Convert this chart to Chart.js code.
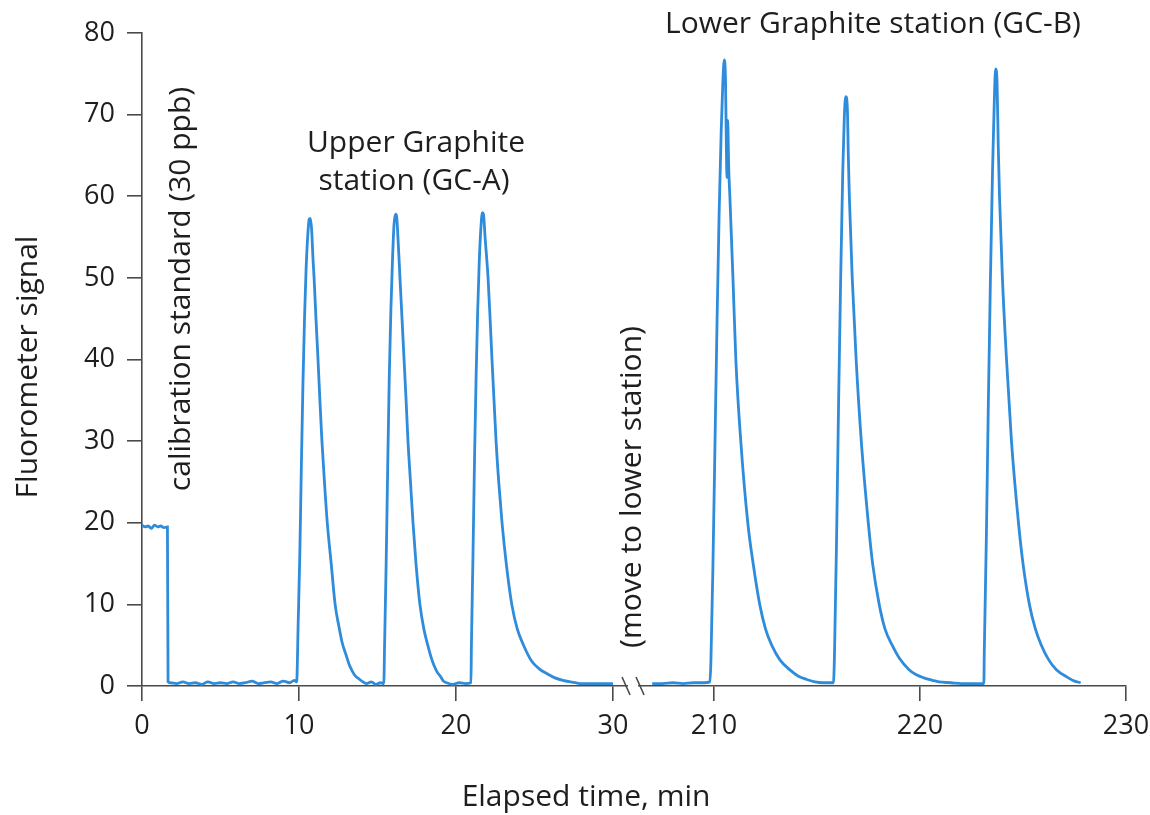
<!DOCTYPE html>
<html>
<head>
<meta charset="utf-8">
<script src="https://cdn.jsdelivr.net/npm/chart.js@4.4.1/dist/chart.umd.min.js"></script>
<style>
  html, body { margin: 0; padding: 0; background: #ffffff; }
  #wrap { width: 1150px; height: 815px; }
</style>
</head>
<body>
<div id="wrap"><canvas id="c" width="1150" height="815"></canvas></div>
<script>
// ---------------- DATA ----------------
// Segment 1: calibration + Upper Graphite station (GC-A), minutes 0-30
const seg1Time = [
  0, 0.2, 0.4, 0.6, 0.8, 1.0, 1.2, 1.4, 1.62, 1.66,
  1.8, 2.2, 2.6, 3.0, 3.4, 3.8, 4.2, 4.6, 5.0, 5.4, 5.8, 6.2, 6.6, 7.0, 7.4, 7.8, 8.2, 8.6, 9.0, 9.4, 9.7, 9.85,
  9.95, 10.05, 10.15, 10.25, 10.35, 10.45, 10.55, 10.65, 10.72, 10.8, 10.9, 10.96, 11.08, 11.21, 11.33, 11.46, 11.62, 11.8,
  12.05, 12.3, 12.55, 12.75, 13.0, 13.2, 13.4, 13.6, 13.8, 14.0, 14.3, 14.6, 14.9, 15.2, 15.4,
  15.45, 15.55, 15.65, 15.75, 15.85, 15.95, 16.05, 16.15, 16.22, 16.3, 16.43, 16.56, 16.69, 16.82, 16.94, 17.1, 17.26,
  17.45, 17.7, 17.95, 18.2, 18.4, 18.6, 18.8, 19.0, 19.2, 19.4, 19.8, 20.2, 20.6, 20.95,
  20.98, 21.08, 21.18, 21.28, 21.38, 21.48, 21.58, 21.68, 21.75, 21.85, 22.04, 22.17, 22.29, 22.42, 22.55, 22.72, 22.93,
  23.2, 23.55, 23.9, 24.3, 24.8, 25.3, 25.8, 26.3, 26.8, 27.3, 27.6, 28.0, 29.0, 30.0
];
const seg1Signal = [
  19.7, 19.5, 19.6, 19.3, 19.7, 19.5, 19.6, 19.4, 19.5, 0.5,
  0.4, 0.3, 0.5, 0.3, 0.4, 0.2, 0.5, 0.3, 0.4, 0.3, 0.5, 0.3, 0.4, 0.6, 0.3, 0.4, 0.5, 0.3, 0.6, 0.4, 0.7, 0.5,
  8, 16, 27, 37, 45, 51, 55, 57.2, 57.3, 56, 52, 50, 45, 40, 35, 30, 25, 20,
  15, 10, 7.2, 5.3, 3.8, 2.6, 1.8, 1.2, 0.9, 0.6, 0.3, 0.5, 0.2, 0.4, 0.3,
  5, 15, 27, 38, 46, 52, 56.5, 57.8, 57.5, 55, 50, 45, 40, 35, 30, 25, 20,
  15, 10, 7, 5, 3.6, 2.5, 1.7, 1.2, 0.6, 0.4, 0.2, 0.4, 0.3, 0.4,
  5, 16, 28, 38, 46, 52, 56, 58, 57.8, 55, 50, 45, 40, 35, 30, 25, 20,
  15, 10, 7, 5, 3.1, 2.1, 1.5, 1.0, 0.7, 0.5, 0.4, 0.3, 0.3, 0.3
];
// Segment 2: Lower Graphite station (GC-B), minutes 207-228
const seg2Time = [
  207.0, 207.5, 208.0, 208.5, 209.0, 209.5, 209.8,
  209.85, 209.95, 210.05, 210.15, 210.25, 210.35, 210.43, 210.5, 210.56, 210.6, 210.63, 210.66, 210.72, 210.77, 210.92,
  211.06, 211.3, 211.64, 211.9, 212.22, 212.5, 212.8, 213.2, 213.67, 214.1, 214.5, 214.9, 215.3, 215.8,
  215.85, 215.95, 216.05, 216.15, 216.25, 216.33, 216.4, 216.47, 216.52, 216.57, 216.71, 216.9, 217.15, 217.49,
  217.7, 218.02, 218.3, 218.65, 219.0, 219.47, 219.8, 220.19, 220.6, 220.92, 221.5, 222.0, 222.5, 223.1,
  223.12, 223.22, 223.32, 223.42, 223.52, 223.6, 223.67, 223.74, 223.8, 223.86, 224.0, 224.2, 224.44, 224.78,
  225.0, 225.31, 225.6, 225.89, 226.25, 226.62, 227.2, 227.5, 227.8
];
const seg2Signal = [
  0.3, 0.3, 0.4, 0.3, 0.4, 0.4, 0.5,
  3, 15, 30, 45, 58, 68, 74, 76.7, 74, 66, 62.3, 69.3, 63, 60, 50,
  40, 30, 20, 15, 10, 7, 5, 3.2, 2, 1.2, 0.8, 0.5, 0.4, 0.4,
  4, 18, 35, 50, 63, 70, 72.2, 71, 65, 60, 50, 40, 30, 20,
  15, 10, 7, 5, 3.4, 2, 1.4, 1, 0.7, 0.5, 0.4, 0.3, 0.3, 0.3,
  4, 18, 35, 50, 63, 71, 75.6, 74, 66, 60, 50, 40, 30, 20,
  15, 10, 7, 5, 3.2, 2, 1, 0.6, 0.4
];
// Tick labels
const xTickMinutes = [0, 10, 20, 30, 210, 220, 230];
const yTicks = [0, 10, 20, 30, 40, 50, 60, 70, 80];

// ---------------- broken-axis mapping ----------------
const BREAK_START = 31;
const SECOND_ORIGIN = 210;
const SECOND_ORIGIN_U = 36.43;
const SECOND_SCALE = 1.312;
function toU(t) {
  return t <= BREAK_START ? t : SECOND_ORIGIN_U + (t - SECOND_ORIGIN) * SECOND_SCALE;
}
function fromU(u) {
  return u <= BREAK_START ? u : SECOND_ORIGIN + (u - SECOND_ORIGIN_U) / SECOND_SCALE;
}

const lineColor = 'rgb(46,140,218)';
const textColor = '#1e1e1e';
const axisColor = '#4a4a4a';
const FONT = "'Open Sans', 'Liberation Sans', sans-serif";

const pts1 = seg1Time.map((t, i) => ({x: toU(t), y: seg1Signal[i]}));
const pts2 = seg2Time.map((t, i) => ({x: toU(t), y: seg2Signal[i]}));

const breakPlugin = {
  id: 'breakMarks',
  afterDraw(chart) {
    const {ctx, scales: {x, y}} = chart;
    const y0 = y.getPixelForValue(0);
    const xa = x.getPixelForValue(toU(30)) + 13;
    const xb = xa + 14;
    ctx.save();
    ctx.fillStyle = '#ffffff';
    ctx.fillRect(xa + 2, y0 - 3, xb - xa - 4, 6);
    ctx.strokeStyle = axisColor;
    ctx.lineWidth = 1.6;
    [xa, xb].forEach(cx => {
      ctx.beginPath();
      ctx.moveTo(cx - 4, y0 - 9);
      ctx.lineTo(cx + 4, y0 + 9);
      ctx.stroke();
    });
    ctx.restore();
  }
};

const labelPlugin = {
  id: 'annotations',
  afterDraw(chart) {
    const {ctx} = chart;
    ctx.save();
    ctx.fillStyle = textColor;
    ctx.textAlign = 'center';
    ctx.textBaseline = 'middle';
    ctx.font = "30px " + FONT;
    ctx.fillText('Upper Graphite', 416, 143);
    ctx.fillText('station (GC-A)', 414, 181);
    ctx.fillText('Lower Graphite station (GC-B)', 873, 24);
    const rot = (txt, cx, cy) => {
      ctx.save();
      ctx.translate(cx, cy);
      ctx.rotate(-Math.PI / 2);
      ctx.fillText(txt, 0, 0);
      ctx.restore();
    };
    rot('calibration standard (30 ppb)', 181, 289);
    rot('(move to lower station)', 632, 487);
    ctx.fillText('Elapsed time, min', 586, 797);
    rot('Fluorometer signal', 28, 367);
    ctx.restore();
  }
};

new Chart(document.getElementById('c'), {
  type: 'line',
  data: {
    datasets: [
      {data: pts1, borderColor: lineColor, borderWidth: 2.8, pointRadius: 0, fill: false, cubicInterpolationMode: 'monotone'},
      {data: pts2, borderColor: lineColor, borderWidth: 2.8, pointRadius: 0, fill: false, cubicInterpolationMode: 'monotone'}
    ]
  },
  options: {
    responsive: false,
    animation: false,
    events: [],
    layout: {padding: {top: 33, right: 24, left: 0, bottom: 0}},
    plugins: {legend: {display: false}, tooltip: {enabled: false}},
    scales: {
      x: {
        type: 'linear',
        min: 0,
        max: toU(230),
        afterBuildTicks(scale) { scale.ticks = xTickMinutes.map(m => ({value: toU(m)})); },
        afterFit(scale) { scale.height = 129; scale.paddingLeft = 0; scale.paddingRight = 0; },
        ticks: {
          autoSkip: false,
          maxRotation: 0,
          padding: 9,
          color: textColor,
          font: {family: FONT, size: 27},
          callback: (v) => String(Math.round(fromU(v)))
        },
        grid: {drawOnChartArea: false, drawTicks: true, tickLength: 15, color: axisColor, lineWidth: 1.6},
        border: {display: true, color: axisColor, width: 1.6},
        title: {display: false}
      },
      y: {
        type: 'linear',
        min: 0,
        max: 80,
        afterBuildTicks(scale) { scale.ticks = yTicks.map(v => ({value: v})); },
        afterFit(scale) { scale.width = 142; scale.paddingTop = 0; scale.paddingBottom = 0; },
        ticks: {padding: 12, color: textColor, font: {family: FONT, size: 27}},
        grid: {drawOnChartArea: false, drawTicks: true, tickLength: 15, color: axisColor, lineWidth: 1.6},
        border: {display: true, color: axisColor, width: 1.6},
        title: {display: false}
      }
    }
  },
  plugins: [breakPlugin, labelPlugin]
});
</script>
</body>
</html>
